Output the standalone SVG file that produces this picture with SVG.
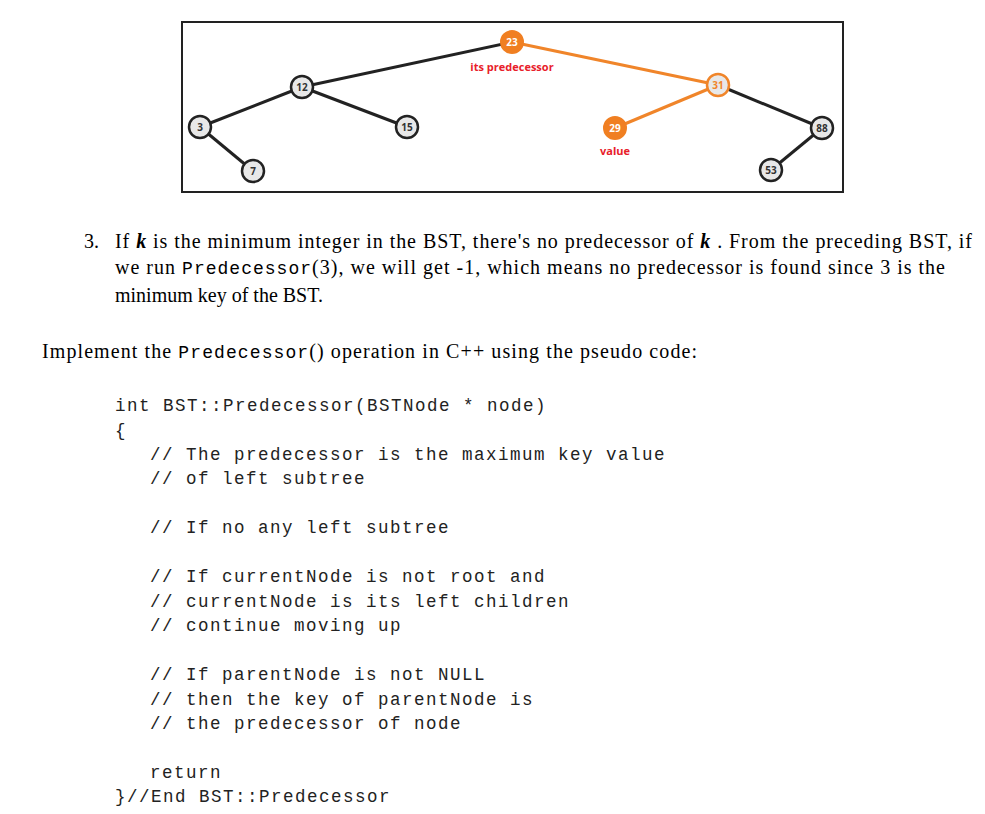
<svg xmlns="http://www.w3.org/2000/svg" width="985" height="814" viewBox="0 0 985 814">
<style>
.n circle{fill:#e8e8e8;stroke:#222;stroke-width:2.5}
.n text,.o text{font-family:"Open Sans","DejaVu Sans",sans-serif;font-size:10px;font-weight:bold;text-anchor:middle;fill:#333}
.o circle{fill:#f07f22;stroke:#f07f22;stroke-width:2}
.o text{fill:#fff}
.lbl{font-family:"Open Sans",sans-serif;font-size:11px;font-weight:bold;fill:#e8202a;text-anchor:middle}
.t{font-family:"Liberation Serif",serif;font-size:20px;fill:#000}
.m{font-family:"Liberation Mono",monospace}
.c{font-family:"Liberation Mono",monospace;font-size:17.5px;fill:#222;letter-spacing:1.5px}
</style>
<rect x="0" y="0" width="985" height="814" fill="#fff"/>
<rect x="182" y="22" width="661" height="170" fill="#fff" stroke="#222" stroke-width="2"/>
<g id="edges" stroke-width="3" fill="none">
<line x1="512" y1="42" x2="302" y2="87" stroke="#222"/>
<line x1="302" y1="87" x2="200" y2="127" stroke="#222"/>
<line x1="302" y1="87" x2="407" y2="127" stroke="#222"/>
<line x1="200" y1="127" x2="253" y2="171" stroke="#222"/>
<line x1="512" y1="42" x2="718" y2="85" stroke="#f0852a"/>
<line x1="718" y1="85" x2="615" y2="128" stroke="#f0852a"/>
<line x1="718" y1="85" x2="822" y2="128" stroke="#222"/>
<line x1="822" y1="128" x2="771" y2="170" stroke="#222"/>
</g>
<g id="n23" class="o"><circle cx="512" cy="42" r="11"/><text x="512" y="46">23</text></g>
<g id="n12" class="n"><circle cx="302" cy="87" r="11"/><text x="302" y="91">12</text></g>
<g id="n3" class="n"><circle cx="200" cy="127" r="11"/><text x="200" y="131">3</text></g>
<g id="n7" class="n"><circle cx="253" cy="171" r="11"/><text x="253" y="175">7</text></g>
<g id="n15" class="n"><circle cx="407" cy="127" r="11"/><text x="407" y="131">15</text></g>
<g id="n31" class="n"><circle cx="718" cy="85" r="11" style="stroke:#f0852a"/><text x="718" y="89" style="fill:#f0852a">31</text></g>
<g id="n29" class="o"><circle cx="615" cy="128" r="11"/><text x="615" y="132">29</text></g>
<g id="n88" class="n"><circle cx="822" cy="128" r="11"/><text x="822" y="132">88</text></g>
<g id="n53" class="n"><circle cx="771" cy="170" r="11"/><text x="771" y="174">53</text></g>
<text class="lbl" x="512" y="71">its predecessor</text>
<text class="lbl" x="615" y="155">value</text>
<text class="t" x="84" y="248">3.</text>
<text class="t" x="115" y="248" textLength="857">If <tspan font-style="italic" font-weight="bold">k</tspan>  is the minimum integer in the BST, there's no predecessor of <tspan font-style="italic" font-weight="bold">k</tspan> . From the preceding BST, if</text>
<text class="t" x="115" y="274" textLength="830">we run <tspan class="m" font-size="18">Predecessor</tspan>(3), we will get -1, which means no predecessor is found since 3 is the</text>
<text class="t" x="115" y="302">minimum key of the BST.</text>
<text class="t" x="42" y="358" textLength="655">Implement the <tspan class="m" font-size="18">Predecessor</tspan>() operation in C++ using the pseudo code:</text>
<g class="c">
<text x="115" y="411">int BST::Predecessor(BSTNode * node)</text>
<text x="115" y="436">{</text>
<text x="150" y="460">// The predecessor is the maximum key value</text>
<text x="150" y="484">// of left subtree</text>
<text x="150" y="533">// If no any left subtree</text>
<text x="150" y="582">// If currentNode is not root and</text>
<text x="150" y="607">// currentNode is its left children</text>
<text x="150" y="631">// continue moving up</text>
<text x="150" y="680">// If parentNode is not NULL</text>
<text x="150" y="705">// then the key of parentNode is</text>
<text x="150" y="729">// the predecessor of node</text>
<text x="150" y="778">return</text>
<text x="115" y="802">}//End BST::Predecessor</text>
</g>
</svg>
